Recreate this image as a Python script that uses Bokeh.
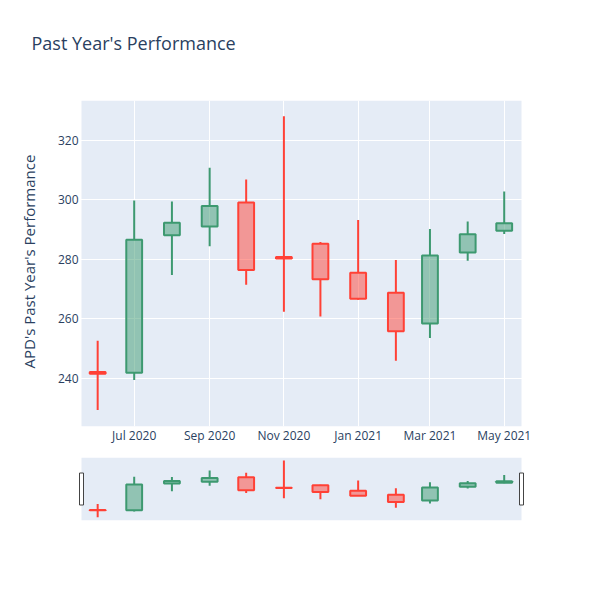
import numpy as np
import pandas as pd
from bokeh.plotting import figure
from bokeh.models import Range1d, FixedTicker, DatetimeTickFormatter, Title
from bokeh.layouts import column
from bokeh.embed import file_html
from bokeh.resources import INLINE

# ---- data ----
dates = ["2020-06-01", "2020-07-01", "2020-08-01", "2020-09-01", "2020-10-01", "2020-11-01",
         "2020-12-01", "2021-01-01", "2021-02-01", "2021-03-01", "2021-04-01", "2021-05-01"]
opens = [242.2, 241.9, 288.1, 291.0, 299.1, 280.8, 285.2, 275.5, 268.8, 258.5, 282.3, 289.6]
highs = [252.7, 299.7, 299.4, 310.7, 306.8, 328.0, 285.8, 293.2, 279.8, 290.2, 292.7, 302.8]
lows = [229.4, 239.5, 274.7, 284.4, 271.5, 262.4, 260.8, 266.4, 246.0, 253.6, 279.5, 288.5]
closes = [241.6, 286.6, 292.3, 297.9, 276.4, 280.3, 273.3, 266.8, 255.9, 281.3, 288.4, 292.1]
tick_dates = ["2020-07-01", "2020-09-01", "2020-11-01", "2021-01-01", "2021-03-01", "2021-05-01"]
y_ticks = [240, 260, 280, 300, 320]

INC = "#3D9970"
DEC = "#FF4136"
TXT = "#2a3f5f"
BG = "#E5ECF6"
FONT = "Open Sans"

x = pd.to_datetime(dates)
o = np.array(opens); c = np.array(closes); h = np.array(highs); l = np.array(lows)
tops = np.maximum(o, c)
bots = np.minimum(o, c)
cols = [INC if cc > oo else DEC for oo, cc in zip(o, c)]
W = 13 * 86400000

def ms(s):
    return pd.Timestamp(s).value / 1e6

x0 = ms("2020-05-18 17:00")
x1 = ms("2021-05-15 05:00")
y0, y1 = 223.9, 333.3

PW, FH = 440, 326          # visible plot width / height
PAD = 8                    # frame extends PAD px beyond plot area on each side
FW = PW + 2 * PAD
px_per_ms = PW / (x1 - x0)
ext = PAD / px_per_ms
LEFT = 72
RIGHT = 52

p = figure(x_axis_type="datetime", frame_width=FW, frame_height=FH,
           min_border_left=LEFT, min_border_right=RIGHT, min_border_top=100, min_border_bottom=30,
           x_range=Range1d(x0 - ext, x1 + ext), y_range=Range1d(y0, y1),
           output_backend="svg", toolbar_location=None,
           background_fill_color="white", border_fill_color="white", outline_line_color=None)

# spacer between frame and title, then the title itself
p.add_layout(Title(text=" ", text_font_size="1px", standoff=43), "above")
p.add_layout(Title(text="Past Year's Performance", align="left", offset=30 - LEFT, standoff=0,
                   text_font=FONT, text_font_size="18px", text_font_style="normal",
                   text_color=TXT), "above")

p.quad(left=[x0], right=[x1], bottom=[y0], top=[y1], fill_color=BG, line_color=None, level="image")

p.grid.grid_line_color = "white"
p.grid.grid_line_width = 1
p.xaxis.ticker = FixedTicker(ticks=[ms(t) for t in tick_dates])
p.xaxis.formatter = DatetimeTickFormatter(days="%b %Y", months="%b %Y", years="%b %Y")
p.yaxis.ticker = FixedTicker(ticks=y_ticks)
for ax in (p.xaxis, p.yaxis):
    ax.axis_line_color = None
    ax.major_tick_line_color = None
    ax.minor_tick_line_color = None
    ax.major_tick_out = 0
    ax.major_tick_in = 0
    ax.minor_tick_out = 0
    ax.minor_tick_in = 0
    ax.major_label_text_color = TXT
    ax.major_label_text_font = FONT
    ax.major_label_text_font_size = "12px"
p.xaxis.major_label_standoff = 0
p.yaxis.major_label_standoff = -5

# y-axis title as a left-side Title (start of text anchored near the bottom)
p.add_layout(Title(text="APD's Past Year's Performance", align="left", offset=58, standoff=32,
                   text_font=FONT, text_font_size="15px", text_font_style="normal",
                   text_color=TXT), "left")

def candles(fig):
    fig.segment(x0=x, y0=l, x1=x, y1=bots, line_color=cols, line_width=2)
    fig.segment(x0=x, y0=tops, x1=x, y1=h, line_color=cols, line_width=2)
    fig.vbar(x=x, width=W, top=tops, bottom=bots, fill_color=cols, fill_alpha=0.5,
             line_color=cols, line_width=2)

candles(p)

# ---- range slider ----
s = figure(x_axis_location=None, y_axis_location=None, frame_width=FW, frame_height=63,
           min_border_left=LEFT, min_border_right=RIGHT, min_border_top=1, min_border_bottom=10,
           x_range=Range1d(x0 - ext, x1 + ext), y_range=Range1d(y0, y1),
           output_backend="svg", toolbar_location=None,
           background_fill_color="white", border_fill_color="white", outline_line_color=None)
s.grid.visible = False
s.quad(left=[x0], right=[x1], bottom=[y0], top=[y1], fill_color=BG, line_color=None)
candles(s)
mid = (y0 + y1) / 2
s.rect(x=[x0, x1], y=[mid, mid], width=4, height=32, width_units="screen", height_units="screen",
       fill_color="white", line_color="#444444", line_width=1)

layout = column(p, s, spacing=0)
open("out.html", "w").write(file_html(layout, INLINE))
